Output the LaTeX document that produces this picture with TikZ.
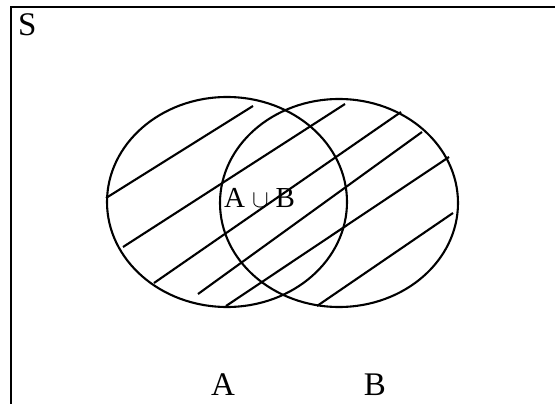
\documentclass[tikz,border=0pt]{standalone}
\usepackage{fontspec}
\setmainfont{Liberation Serif}
\begin{document}
\begin{tikzpicture}[x=1pt,y=-1pt,
  setline/.style={line width=2.1pt},
  hatch/.style={line width=2.1pt},
  lbl/.style={anchor=base,inner sep=0pt,font=\fontsize{33}{34}\selectfont}]
\useasboundingbox (0,0) rectangle (555,404);
\clip (0,0) rectangle (555,404);
% universe frame (right and bottom sides lie outside the picture)
\draw[line width=2.6pt] (11,420) -- (11,7) -- (570,7);
\node[lbl,anchor=base west] (S) at (18,36) {S};
% sets
\draw[setline] (227,202) ellipse [x radius=120,y radius=105];
\draw[setline] (339,203) ellipse [x radius=119,y radius=104];
% hatching
\draw[hatch] (106,198) -- (253,106);
\draw[hatch] (123,247) -- (345,104);
\draw[hatch] (154,283) -- (401,112);
\draw[hatch] (198,294) -- (422,132);
\draw[hatch] (226,306) -- (449,157);
\draw[hatch] (317,306) -- (453,213);
% labels
\node[lbl,anchor=base west,font=\fontsize{29}{30}\selectfont] (U) at (224,207)
  {A\hspace{7pt}{\fontsize{24.88}{25}\selectfont$\cup$}\hspace{7pt}B};
\node[lbl] (A) at (223,395) {A};
\node[lbl] (B) at (375,395) {B};
\end{tikzpicture}
\end{document}
